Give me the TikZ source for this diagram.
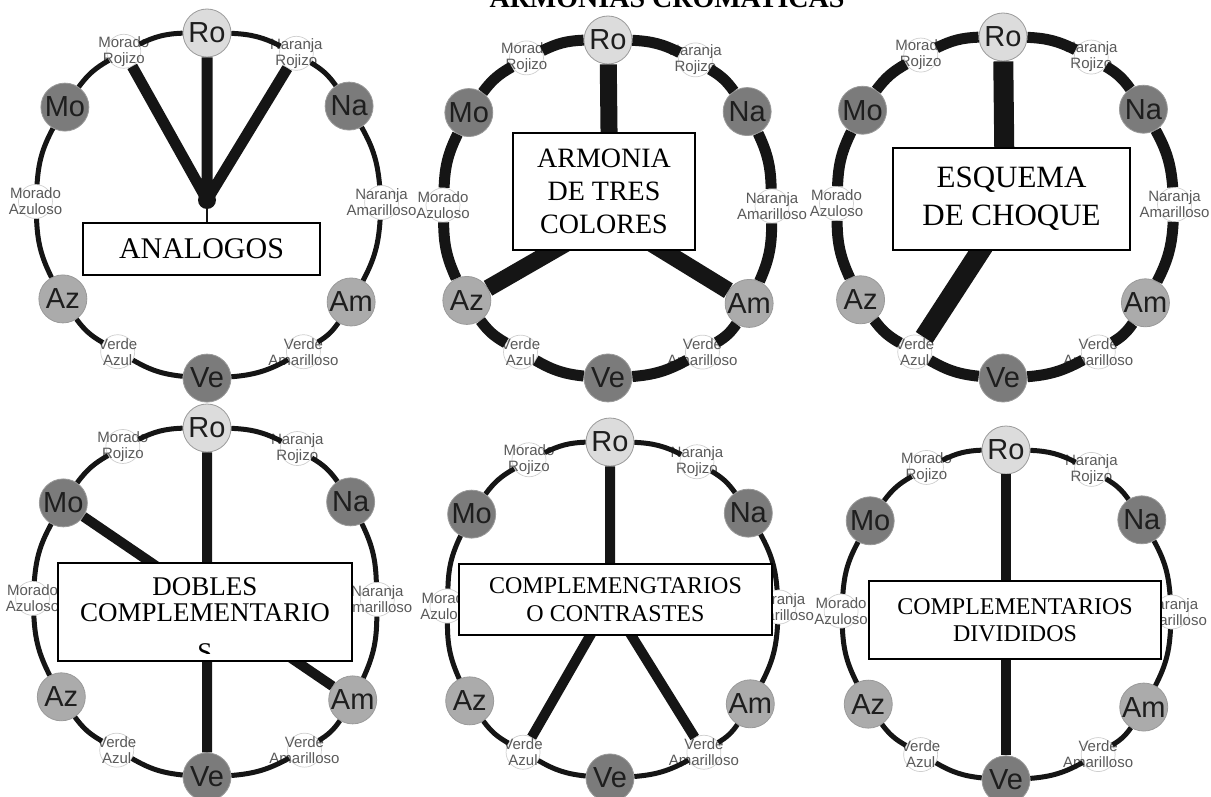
\documentclass[tikz,border=0pt]{standalone}
\usepackage{fontspec}
\setmainfont{Liberation Serif}
\newfontfamily\arialf{Liberation Sans}
\definecolor{cLight}{HTML}{DCDCDC}
\definecolor{cDark}{HTML}{7B7B7B}
\definecolor{cMid}{HTML}{ABABAB}
\definecolor{bigborder}{HTML}{9A9A9A}
\definecolor{bigtext}{HTML}{1E1E1E}
\definecolor{smallborder}{HTML}{CFCFCF}
\definecolor{smalltext}{HTML}{5A5A5A}
\definecolor{ringc}{HTML}{151515}
\tikzset{
  bignode/.style={circle, minimum size=48pt, inner sep=-4pt, draw=bigborder, line width=0.8pt,
    font=\arialf\fontsize{29}{29}\selectfont, text=bigtext},
  smallc/.style={circle, minimum size=34pt, inner sep=0pt, draw=smallborder, fill=white, line width=0.7pt},
  smallt/.style={align=center, inner sep=0pt, font=\arialf\fontsize{15}{16}\selectfont, text=smalltext},
  ring/.style={draw=ringc, every to/.style={bend left=12}},
  spoke/.style={draw=ringc},
  box/.style={draw=black, fill=white, line width=1.2pt, align=center, inner sep=0pt},
  boxline/.style={anchor=base, inner sep=0pt, font=\fontsize{27}{27}\selectfont}
}
% #1 prefix, #2 x of Naranja Amarilloso, #3 x of Morado Azuloso
\newcommand{\wheelsmall}[3]{%
  \node[smallc] (#1NR) at (88,-20) {};
  \node[smallt] (#1NRt) at (88,-20) {Naranja\\Rojizo};
  \node[smallc] (#1NA) at (#2,-167) {};
  \node[smallt] (#1NAt) at (#2,-167) {Naranja\\Amarilloso};
  \node[smallc] (#1VAm) at (95,-314) {};
  \node[smallt] (#1VAmt) at (95,-314) {Verde\\Amarilloso};
  \node[smallc] (#1VA) at (-88,-314) {};
  \node[smallt] (#1VAt) at (-88,-314) {Verde\\Azul};
  \node[smallc] (#1MA) at (#3,-166) {};
  \node[smallt] (#1MAt) at (#3,-166) {Morado\\Azuloso};
  \node[smallc] (#1MR) at (-82,-18) {};
  \node[smallt] (#1MRt) at (-82,-18) {Morado\\Rojizo};
}
\newcommand{\wheelbig}[1]{%
  \node[bignode,fill=cLight] (#1Ro) at (0,0) {Ro};
  \node[bignode,fill=cDark] (#1Na) at (140,-72) {Na};
  \node[bignode,fill=cMid] (#1Am) at (142,-265) {Am};
  \node[bignode,fill=cDark] (#1Ve) at (0,-340) {Ve};
  \node[bignode,fill=cMid] (#1Az) at (-142,-262) {Az};
  \node[bignode,fill=cDark] (#1Mo) at (-140,-73) {Mo};
}
\newcommand{\wheelring}[2]{%
  \draw[ring,line width=#2] (#1Ro) to (#1NR) (#1NR) to (#1Na) (#1Na) to (#1NA)
    (#1NA) to (#1Am) (#1Am) to (#1VAm) (#1VAm) to (#1Ve) (#1Ve) to (#1VA)
    (#1VA) to (#1Az) (#1Az) to (#1MA) (#1MA) to (#1Mo) (#1Mo) to (#1MR) (#1MR) to (#1Ro);
}
\newcommand{\wheel}[4]{\wheelsmall{#1}{#2}{#3}\wheelbig{#1}\wheelring{#1}{#4}}
\begin{document}
\begin{tikzpicture}[x=1pt,y=1pt]
\useasboundingbox (0,0) rectangle (1211,-797);
\node[anchor=base, inner sep=0pt, font=\bfseries\fontsize{28}{28}\selectfont] (title) at (667,-8) {ARMONIAS CROMATICAS};

\begin{scope}[shift={(207,-33)},scale=1.015]\wheel{a}{172}{-169}{5pt}\end{scope}
\begin{scope}[shift={(608,-40)},scale=0.994]\wheel{b}{165}{-166}{11pt}\end{scope}
\begin{scope}[shift={(1003,-37)},scale=1.003]\wheel{c}{171}{-166}{11pt}\end{scope}
\begin{scope}[shift={(207,-428)},scale=1.026]\wheel{d}{166}{-170}{5pt}\end{scope}
\begin{scope}[shift={(610,-442)},scale=0.988]\wheel{e}{171}{-165}{5pt}\end{scope}
\begin{scope}[shift={(1006,-450)},scale=0.97]\wheel{f}{171}{-170}{5pt}\end{scope}

% hubs
\coordinate (h1) at (207,-200);
\coordinate (h2) at (610,-218);
\coordinate (h3) at (1005,-213);
\coordinate (h5) at (610,-601);

% spokes
\draw[spoke,line width=11pt] (aMR) -- (h1) (aRo) -- (h1) (aNR) -- (h1);
\node[circle, fill=ringc, minimum size=18pt, inner sep=0pt] (h1dot) at (h1) {};
\draw[spoke,line width=17pt] (bRo) -- (h2) (h2) -- (bAz) (h2) -- (bAm);
\draw[spoke,line width=20pt] (cRo) -- (h3) (h3) -- (cVA);
\draw[spoke,line width=10pt] (dRo) -- (dVe) (dMo) -- (dAm);
\draw[spoke,line width=10pt] (eRo) -- (h5) (h5) -- (eVA) (h5) -- (eVAm);
\draw[spoke,line width=10pt] (fRo) -- (fVe);

% boxes
\node[box, minimum width=237pt, minimum height=52pt, font=\fontsize{30}{34}\selectfont] (b1) at (201.5,-249) {ANALOGOS};
\draw[spoke,line width=1.5pt] (h1dot.center) -- (b1.north -| h1dot.center);
\node[box, minimum width=182pt, minimum height=117pt, font=\fontsize{28}{33}\selectfont] (b2) at (604,-191.5) {ARMONIA\\DE TRES\\COLORES};
\node[box, minimum width=237pt, minimum height=102pt, font=\fontsize{31}{38}\selectfont] (b3) at (1011.5,-199) {ESQUEMA\\DE CHOQUE};
\node[box, minimum width=294pt, minimum height=98pt] (b4) at (205,-612) {};
\begin{scope}
  \clip (59,-564) rectangle (351,-653);
  \node[boxline] (b4l1) at (205,-595) {DOBLES};
  \node[boxline] (b4l2) at (205,-621) {COMPLEMENTARIO};
  \node[boxline] (b4l3) at (205,-661) {S};
\end{scope}
\node[box, minimum width=313pt, minimum height=71pt, font=\fontsize{24}{28}\selectfont] (b5) at (615.5,-599.5) {COMPLEMENGTARIOS\\O CONTRASTES};
\node[box, minimum width=292pt, minimum height=78pt, font=\fontsize{24}{27}\selectfont] (b6) at (1015,-620) {COMPLEMENTARIOS\\DIVIDIDOS};
\end{tikzpicture}
\end{document}
